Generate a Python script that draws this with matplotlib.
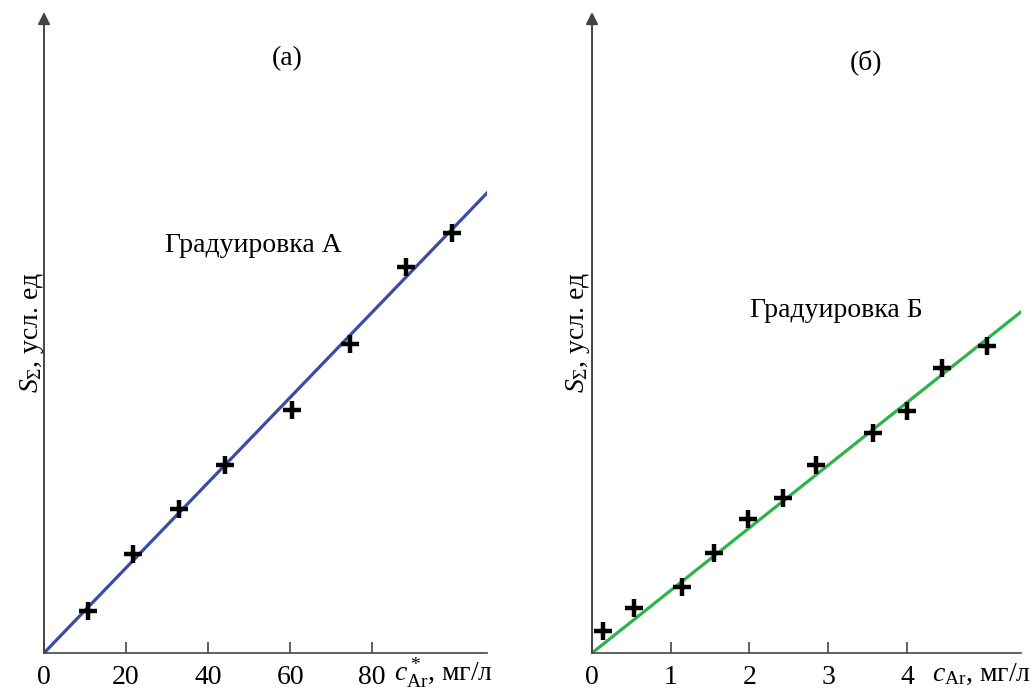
import numpy as np
import matplotlib.pyplot as plt

plt.rcParams['font.family'] = ['Liberation Serif', 'DejaVu Serif']
plt.rcParams['mathtext.fontset'] = 'custom'
plt.rcParams['mathtext.rm'] = 'Liberation Serif'
plt.rcParams['mathtext.it'] = 'Liberation Serif:italic'

# --- data (y in arbitrary units) ---
conc_a = [10.7, 21.7, 33.0, 44.1, 60.5, 74.6, 88.3, 99.5]
signal_a = [4.2, 9.9, 14.4, 18.8, 24.3, 30.9, 38.6, 42.0]
slope_a = 0.426

conc_b = [0.14, 0.53, 1.14, 1.55, 1.98, 2.43, 2.85, 3.57, 4.0, 4.45, 5.02]
signal_b = [2.2, 4.5, 6.6, 10.0, 13.4, 15.5, 18.8, 22.0, 24.2, 28.5, 30.7]
slope_b = 6.26

ticks_a = [0, 20, 40, 60, 80]
ticks_b = [0, 1, 2, 3, 4]

fig = plt.figure(figsize=(10.33, 6.91), dpi=100)
ax_a = fig.add_axes([0.0426, 0.055, 0.4289, 0.9276])
ax_b = fig.add_axes([0.5731, 0.055, 0.4153, 0.9276])

axis_col = '#444444'
fs = 20


def setup(ax, xmax, ticks, xlabel, xlabel_x, ylabel_x):
    ax.set_xlim(0, xmax)
    ax.set_ylim(0, 64.1)
    for s in ['top', 'right', 'left']:
        ax.spines[s].set_visible(False)
    ax.spines['bottom'].set_color(axis_col)
    ax.spines['bottom'].set_linewidth(1.2)
    ax.annotate('', xy=(0, 1), xytext=(0, 0), xycoords='axes fraction',
                arrowprops=dict(arrowstyle='-|>', color=axis_col, lw=1.4,
                                mutation_scale=18, shrinkA=0, shrinkB=0))
    ax.set_xticks(ticks)
    ax.set_yticks([])
    ax.tick_params(axis='x', direction='in', length=8, width=1.2,
                   color=axis_col, labelsize=fs, pad=9)
    ax.text(xlabel_x, -0.044, xlabel, transform=ax.transAxes, fontsize=fs,
            ha='left', va='baseline')
    ax.text(ylabel_x, 0.5, r'$S_{\Sigma}$, усл. ед', transform=ax.transAxes,
            rotation=90, fontsize=fs, ha='center', va='center')


setup(ax_a, 108.0, ticks_a, r'$c^*_{\mathrm{Ar}}$, мг/л', 0.79, -0.026)
setup(ax_b, 5.45, ticks_b, r'$c_{\mathrm{Ar}}$, мг/л', 0.793, -0.033)

xa = np.array([0, 108.0])
ax_a.plot(xa, slope_a * xa, color='#3a4ca3', lw=2.3, zorder=2)
ax_a.plot(conc_a, signal_a, '+', color='black', ms=13, mew=3.2, zorder=3)
ax_a.text(0.549, 0.928, '(а)', transform=ax_a.transAxes, fontsize=fs,
          ha='center', va='center')
ax_a.text(0.473, 0.635, 'Градуировка А', transform=ax_a.transAxes,
          fontsize=fs, ha='center', va='center')

xb = np.array([0, 5.45])
ax_b.plot(xb, slope_b * xb, color='#2db34a', lw=2.3, zorder=2)
ax_b.plot(conc_b, signal_b, '+', color='black', ms=13, mew=3.2, zorder=3)
ax_b.text(0.639, 0.922, '(б)', transform=ax_b.transAxes, fontsize=fs,
          ha='center', va='center')
ax_b.text(0.57, 0.535, 'Градуировка Б', transform=ax_b.transAxes,
          fontsize=fs, ha='center', va='center')

fig.savefig('out.png', dpi=100)
